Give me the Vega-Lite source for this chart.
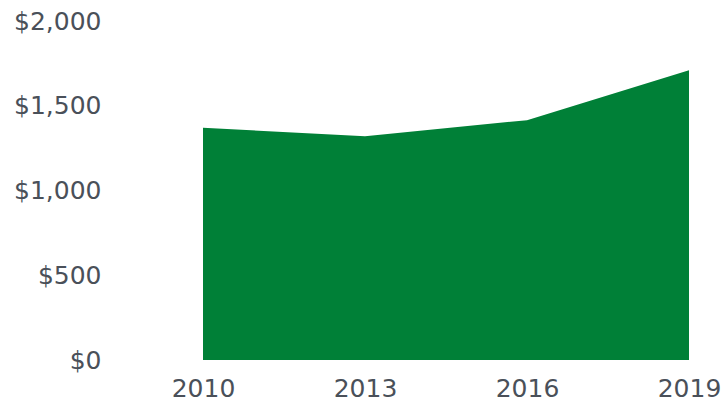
{
  "$schema": "https://vega.github.io/schema/vega-lite/v6.json",
  "width": 486,
  "height": 339,
  "autosize": {"type": "none"},
  "padding": {"left": 203, "top": 21, "right": 32, "bottom": 43},
  "background": "white",
  "config": {"view": {"stroke": null}},
  "data": {"values": [
    {"year": 2010, "value": 1370},
    {"year": 2013, "value": 1320},
    {"year": 2016, "value": 1415},
    {"year": 2019, "value": 1710}
  ]},
  "mark": {"type": "area", "color": "#008037", "opacity": 1},
  "encoding": {
    "x": {
      "field": "year", "type": "quantitative",
      "scale": {"domain": [2010, 2019], "nice": false, "zero": false},
      "axis": {
        "values": [2010, 2013, 2016, 2019], "format": "d", "title": null,
        "domain": false, "ticks": false, "grid": false,
        "labelFont": "DejaVu Sans", "labelFontSize": 25, "labelColor": "#4a5059",
        "labelPadding": 16, "labelFlush": false, "labelOverlap": false
      }
    },
    "y": {
      "field": "value", "type": "quantitative",
      "scale": {"domain": [0, 2000], "nice": false},
      "axis": {
        "values": [0, 500, 1000, 1500, 2000], "format": "$,.0f", "title": null,
        "domain": false, "ticks": false, "grid": false,
        "labelFont": "DejaVu Sans", "labelFontSize": 25, "labelColor": "#4a5059",
        "labelPadding": 102, "labelFlush": false, "labelOverlap": false
      }
    }
  }
}
